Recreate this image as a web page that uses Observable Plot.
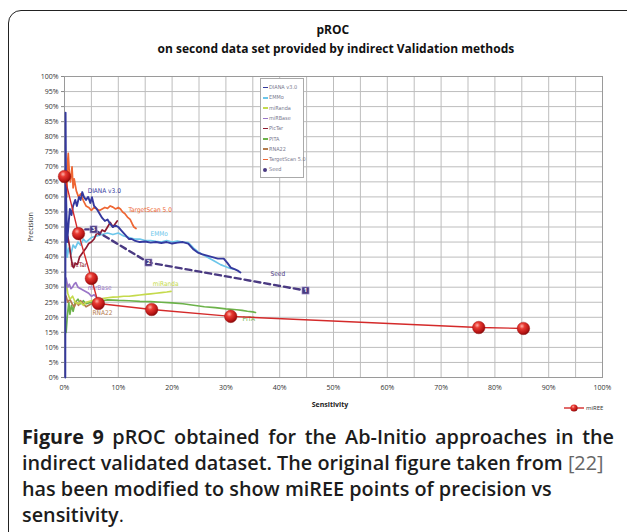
<!DOCTYPE html>
<html><head><meta charset="utf-8">
<script src="https://cdn.jsdelivr.net/npm/d3@7"></script>
<script src="https://cdn.jsdelivr.net/npm/@observablehq/plot@0.6"></script>
<style>
html,body{margin:0;padding:0;background:#fff;width:627px;height:532px;overflow:hidden;}
#wrap{position:relative;width:627px;height:532px;overflow:hidden;}
#frame{position:absolute;left:8px;top:10px;width:680px;height:600px;border:1.5px solid #222;border-radius:13px 0 0 0;box-sizing:border-box;}
.ttl{position:absolute;text-align:center;font-family:"Open Sans";font-weight:700;font-size:12px;line-height:14px;color:#111;white-space:nowrap;}
#chart{position:absolute;left:0;top:0;}
#ylab{position:absolute;left:30px;top:227px;transform:translate(-50%,-50%) rotate(-90deg);font-family:"Open Sans";font-size:7px;color:#333;white-space:nowrap;}
#xlab{position:absolute;left:330px;top:404px;transform:translate(-50%,-50%);font-family:"Open Sans";font-weight:700;font-size:7px;color:#222;white-space:nowrap;}
#leg{position:absolute;left:260px;top:78px;width:44px;height:100px;border:1px solid #aaa;background:#fff;box-sizing:border-box;}
.li{position:absolute;left:2px;height:8px;font-family:"DejaVu Sans Condensed","Liberation Sans Narrow",sans-serif;font-size:5.5px;line-height:8px;color:#7a7a90;white-space:nowrap;}
.li i{display:inline-block;width:5px;height:1.6px;vertical-align:middle;margin-right:1px;}
#mleg{position:absolute;left:562px;top:402px;font-family:"Open Sans";font-size:6px;color:#333;}
#cap{position:absolute;left:22px;top:424px;width:620px;font-family:"Open Sans";font-weight:600;color:#1c1c1c;}
#cap div{white-space:nowrap;line-height:26px;height:26px;}
#cap b{font-weight:700;}
#cap .ref{font-weight:400;color:#666;}
#cap .dot{font-weight:400;}
</style>
</head><body>
<div id="wrap">
<div id="frame"></div>
<div class="ttl" id="t1">pROC</div>
<div class="ttl" id="t2">on second data set provided by indirect Validation methods</div>
<div id="chart"></div>
<div id="ylab">Precision</div>
<div id="xlab">Sensitivity</div>
<div id="leg"></div>
<div id="mleg"></div>
<div id="cap">
<div><span id="c1"><b>Figure 9</b> pROC obtained for the Ab-Initio approaches in the</span></div>
<div><span id="c2">indirect validated dataset. The original figure taken from <span class="ref">[22]</span></span></div>
<div><span id="c3">has been modified to show miREE points of precision vs</span></div>
<div><span id="c4">sensitivity<span class="dot">.</span></span></div>
</div>
</div>
<script>
// ---------- data (sensitivity %, precision %) ----------
const dianaS = [0.15,0.2,0.3,0.5,0.8,1.0,1.3,1.6,2.0,2.3,2.7,3.0,3.3,3.6,4.0,4.4,4.8,5.1,5.5,6.0,6.5,7.0,7.5,8.0,8.5,9.0,9.5,10,10.5,11,11.5,12,12.5,13,14,15,16,17,18,19,20,21,22,23,23.5,24,24.7,25.5,26.5,27.5,28.5,29.6,30.3,30.9,31.6,32.2,32.7];
const dianaP = [0,88,60,45,52,56,54,57,59,57,60,59,61.6,60,59,60,58,59.9,57,56,54.5,53,52,52.5,51,50,50.5,50,49,48,47,46,46,45.5,45,45.2,44.8,45,44.7,45,44.5,44.8,45,44.5,43.5,42.5,41.6,41,40.5,40,39.5,39.5,38,36.5,36,35.5,34.9];
const emmoS = [0.3,0.5,0.8,1.2,1.6,2,2.5,3,3.5,4,5,6,7,8,9,10,11,12,13,14,15,16,17,18,19,20,21,22,23,24,25,26,27,28,29,30,30.7,31.4];
const emmoP = [45,40,43,41,44,43,45,44,46,45,46.5,47,47.5,48,47.5,48,47,46.5,46,46,45.5,45.5,45.2,45,45.5,45,45.3,45,44.8,43,41.5,40.5,39.5,38.5,37.5,36.8,36.3,36];
const tsS = [0.4,0.6,0.7,0.9,1.1,1.4,1.6,1.8,2.2,2.6,3.0,3.5,4.0,4.5,5,5.5,6,6.5,7,7.5,8,8.5,9,9.5,10,10.4,10.8,11.2,11.7,12.2,12.6,12.9,13.3];
const tsP = [60,72,74.5,68,65,70,63,66,62,60,61,58.8,57,56.5,55.5,56.5,56,55.5,56,56.5,56.2,57,56.6,56,56.5,56,55,54.5,53.3,52.5,51,50,49.5];
const pictarS = [0.6,0.9,1.2,1.5,1.7,2.0,2.4,2.8,3.2,3.6,4.0,4.5,5.0,5.5,6.0,6.5,7.0,7.5,8.0,8.5,9.0,9.4,9.8];
const pictarP = [47,44,40,37,36.5,38,37.5,40,41,42,43,44.5,45,46,48,47.5,49,48.5,50,51.5,50,51,52];
const mirbaseS = [0.3,0.6,0.9,1.2,1.5,1.8,2.1,2.5,3,3.5,4,4.5,5,5.5,6,6.5,7];
const mirbaseP = [33,30,31,29.5,30,31,31.5,30,29.5,29,28.5,28,27,27.5,26.5,26.2,26];
const mirandaS = [0.3,0.6,1,1.5,2,2.5,3,3.5,4,5,6,7,8,9,10,11,12,13,14,15,16,17,18,19,19.8];
const mirandaP = [32,28,26,27,25,24.5,25,24,25,25.5,26,26.2,26.5,26.7,26.8,27,27,27.2,27.4,27.6,27.8,28,28.2,28.4,28.6];
const pitaS = [0.3,0.5,0.8,1.0,1.3,1.6,2,2.5,3,3.5,4,5,6,7,8,10,12,14,16,18,20,22,24,26,28,30,32,33,34,35,35.5];
const pitaP = [15,20,25,21,24,22,25,26,24.5,25.5,24.5,25,25.3,25.5,25.8,25.6,25.5,25.3,25.2,25,24.8,24.5,24,23.5,23.2,22.8,22.5,22.3,22,21.8,21.6];
const rna22S = [0.3,0.6,1,1.4,1.8,2.2,2.6,3,3.5,4,4.5,5,5.5];
const rna22P = [27,25,26,24.5,23.5,25,24,25.5,24.5,23.5,24,24.5,24];
const seedS = [2, 5.4, 15.6, 44.8];
const seedP = [49.2, 49.2, 38.2, 28.9];
const seedMark = ["", "3", "2", "1"];
const mireeS = [0, 2.6, 5.0, 6.3, 16.2, 30.9, 77.0, 85.3];
const mireeP = [66.8, 47.8, 32.9, 24.6, 22.6, 20.3, 16.6, 16.3];
const seriesNames = ["DIANA v3.0","EMMo","miRanda","miRBase","PicTar","PITA","RNA22","TargetScan 5.0","Seed"];
// in-chart annotation text and anchor (data units)
const annText = ["DIANA v3.0","TargetScan 5.0","EMMo","PicTar","mirBase","miRanda","RNA22","PITA","Seed"];
const annS = [4.3, 11.9, 16.0, 1.1, 4.3, 16.4, 5.2, 33.1, 38.3];
const annP = [62.0, 55.8, 47.8, 37.5, 29.6, 31.2, 21.6, 19.6, 34.5];
const yTicks = d3.range(0, 101, 5);
const xTicks = d3.range(0, 101, 10);

// ---------- styles ----------
const col = {"DIANA v3.0":"#35399e","EMMo":"#6cc6ea","miRanda":"#c5da4c","miRBase":"#9a76c8","PicTar":"#8e1b30",
  "PITA":"#6cb24a","RNA22":"#b47c4c","TargetScan 5.0":"#ee6633","Seed":"#4a3a82","mirBase":"#9a76c8"};

const zip = (S, P) => S.map((s, i) => ({s, p: P[i]}));
const lineSeries = [
  ["PITA", pitaS, pitaP], ["RNA22", rna22S, rna22P], ["miRanda", mirandaS, mirandaP], ["miRBase", mirbaseS, mirbaseP],
  ["EMMo", emmoS, emmoP], ["PicTar", pictarS, pictarP], ["TargetScan 5.0", tsS, tsP], ["DIANA v3.0", dianaS, dianaP]
];
const seed = zip(seedS, seedP).map((d, i) => ({...d, m: seedMark[i]}));
const miree = zip(mireeS, mireeP);
const ann = annText.map((t, i) => ({t, s: annS[i], p: annP[i]}));

const marks = [
  Plot.gridX(d3.range(0, 101, 5), {stroke: "#bdbdbd", strokeOpacity: 1, strokeWidth: 1}),
  Plot.gridY(yTicks, {stroke: "#bdbdbd", strokeOpacity: 1, strokeWidth: 1}),
  Plot.frame({stroke: "#9a9a9a"}),
  Plot.axisY(yTicks, {tickFormat: d => d + "%", tickSize: 3, tickPadding: 3, label: null, stroke: "#888", fontSize: 7}),
  Plot.axisX(xTicks, {tickFormat: d => d + "%", tickSize: 0, tickPadding: 8, label: null, fontSize: 7})
];
for (const [name, S, P] of lineSeries) {
  marks.push(Plot.line(zip(S, P), {x: "s", y: "p", stroke: col[name], strokeWidth: name === "DIANA v3.0" ? 1.9 : 1.7, curve: "linear"}));
}
marks.push(
  Plot.line(seed, {x: "s", y: "p", stroke: col["Seed"], strokeWidth: 2.4, strokeDasharray: "6,4"}),
  Plot.dot(seed.filter(d => d.m), {x: "s", y: "p", symbol: "square", r: 4.2, fill: col["Seed"], stroke: "#d8d0ee", strokeWidth: 0.6}),
  Plot.text(seed.filter(d => d.m), {x: "s", y: "p", text: "m", fill: "#fff", fontSize: 6, fontWeight: "bold"}),
  Plot.text(ann, {x: "s", y: "p", text: "t", fill: d => col[d.t], textAnchor: "start", fontSize: 6.5,
    fontFamily: "DejaVu Sans Condensed, Liberation Sans Narrow, sans-serif"}),
  Plot.line(miree, {x: "s", y: "p", stroke: "#d42a2a", strokeWidth: 1.4}),
  Plot.dot(miree, {x: "s", y: "p", r: 6.3, fill: "url(#ball)", stroke: "#9a1010", strokeWidth: 0.4})
);

const svg = Plot.plot({
  width: 627, height: 420,
  marginLeft: 64, marginRight: 25, marginTop: 76, marginBottom: 43,
  x: {domain: [0, 100]}, y: {domain: [0, 100]},
  color: {type: "identity"},
  style: {fontFamily: "Open Sans", fontSize: "7px", color: "#333", background: "transparent"},
  marks
});
const ns = "http://www.w3.org/2000/svg";
const defs = document.createElementNS(ns, "defs");
defs.innerHTML = '<radialGradient id="ball" cx="0.38" cy="0.32" r="0.72"><stop offset="0" stop-color="#ffb0a8"/><stop offset="0.3" stop-color="#e83a32"/><stop offset="0.75" stop-color="#b81414"/><stop offset="1" stop-color="#7a0808"/></radialGradient>';
svg.prepend(defs);
document.getElementById("chart").appendChild(svg);

// legend inside plot
const leg = document.getElementById("leg");
seriesNames.forEach((n, i) => {
  const d = document.createElement("div");
  d.className = "li";
  d.style.top = (4 + i * 10.3) + "px";
  const sw = n === "Seed"
    ? `<i style="width:4px;height:4px;border-radius:2px;background:${col[n]};margin-right:2px"></i>`
    : `<i style="background:${col[n]}"></i>`;
  d.innerHTML = sw + n;
  leg.appendChild(d);
});
document.getElementById("mleg").innerHTML =
  '<svg width="62" height="12" style="vertical-align:middle"><line x1="2" x2="22" y1="6" y2="6" stroke="#d42a2a" stroke-width="1.4"/><circle cx="12" cy="6" r="3.6" fill="url(#ball)"/><text x="24" y="8.2" font-size="6" font-family="Open Sans" fill="#333">miREE</text></svg>';

// titles
const t1 = document.getElementById("t1"), t2 = document.getElementById("t2");
t1.style.left = (333 - t1.offsetWidth / 2) + "px"; t1.style.top = "23px";
t2.style.left = (336 - t2.offsetWidth / 2) + "px"; t2.style.top = "42px";

// caption font fitting: line 3 spans ~530px, line 1 spans ~592px
const cap = document.getElementById("cap");
cap.style.fontSize = "16px";
const w3 = document.getElementById("c3").getBoundingClientRect().width;
cap.style.fontSize = (16 * 530 / w3).toFixed(2) + "px";
const c1 = document.getElementById("c1");
const w1 = c1.getBoundingClientRect().width;
const nSp = (c1.textContent.match(/ /g) || []).length;
c1.style.wordSpacing = ((592 - w1) / nSp).toFixed(2) + "px";
</script>
</body></html>
